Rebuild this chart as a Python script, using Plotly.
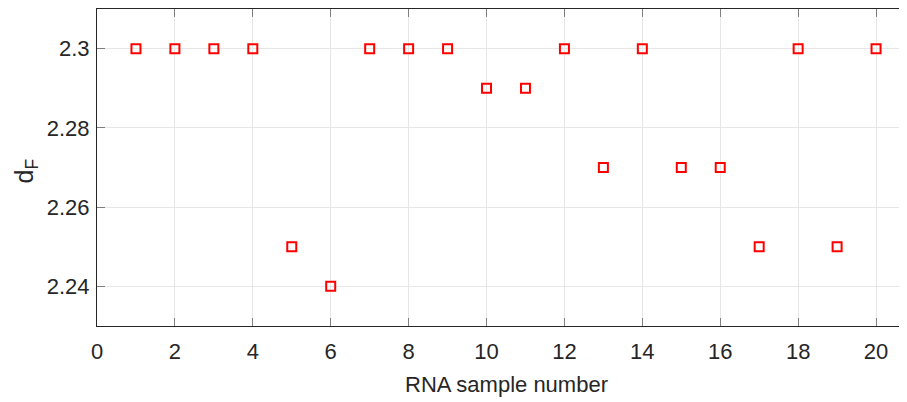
import plotly.graph_objects as go

sample_number = list(range(1, 21))
d_F = [2.30, 2.30, 2.30, 2.30, 2.25, 2.24, 2.30, 2.30, 2.30, 2.29,
       2.29, 2.30, 2.27, 2.30, 2.27, 2.27, 2.25, 2.30, 2.25, 2.30]
x_ticks = list(range(0, 21, 2))
y_ticks = [2.24, 2.26, 2.28, 2.30]
y_tick_labels = ["2.24", "2.26", "2.28", "2.3"]

fig = go.Figure()
fig.add_trace(go.Scatter(
    x=sample_number, y=d_F, mode="markers",
    marker=dict(symbol="square-open", size=9, color="#ff0000",
                line=dict(width=2, color="#ff0000")),
    showlegend=False,
))

font = dict(family="Liberation Sans, Arial, sans-serif", size=22, color="#262626")
ytitle_font = dict(family="Liberation Sans, Arial, sans-serif", size=25, color="#262626")

fig.update_layout(
    width=907, height=402,
    margin=dict(l=89, r=0, t=1, b=84),
    plot_bgcolor="white", paper_bgcolor="white",
    font=font,
    xaxis=dict(range=[0, 21], tickvals=x_ticks, ticks="inside", ticklen=8,
               tickcolor="#7f7f7f", showline=True, linecolor="#262626",
               linewidth=1, mirror="ticks", showgrid=True, gridcolor="#e6e6e6",
               zeroline=False, tickfont=font, ticklabelstandoff=6),
    yaxis=dict(range=[2.23, 2.31], tickvals=y_ticks, ticktext=y_tick_labels,
               ticks="inside", ticklen=8, tickcolor="#7f7f7f", showline=True,
               linecolor="#262626", linewidth=1, showgrid=True,
               gridcolor="#e6e6e6", zeroline=False, tickfont=font,
               ticklabelstandoff=2),
    annotations=[
        dict(text="RNA sample number", xref="paper", yref="paper",
             x=0.5, y=0, yshift=-58, xanchor="center", yanchor="middle",
             showarrow=False, font=font),
        dict(text="d<sub>F</sub>", xref="paper", yref="paper", textangle=-90,
             x=0, y=0.5, xshift=-72, yshift=-4, xanchor="center",
             yanchor="middle", showarrow=False, font=ytitle_font),
    ],
)

fig.write_html("out.html")
